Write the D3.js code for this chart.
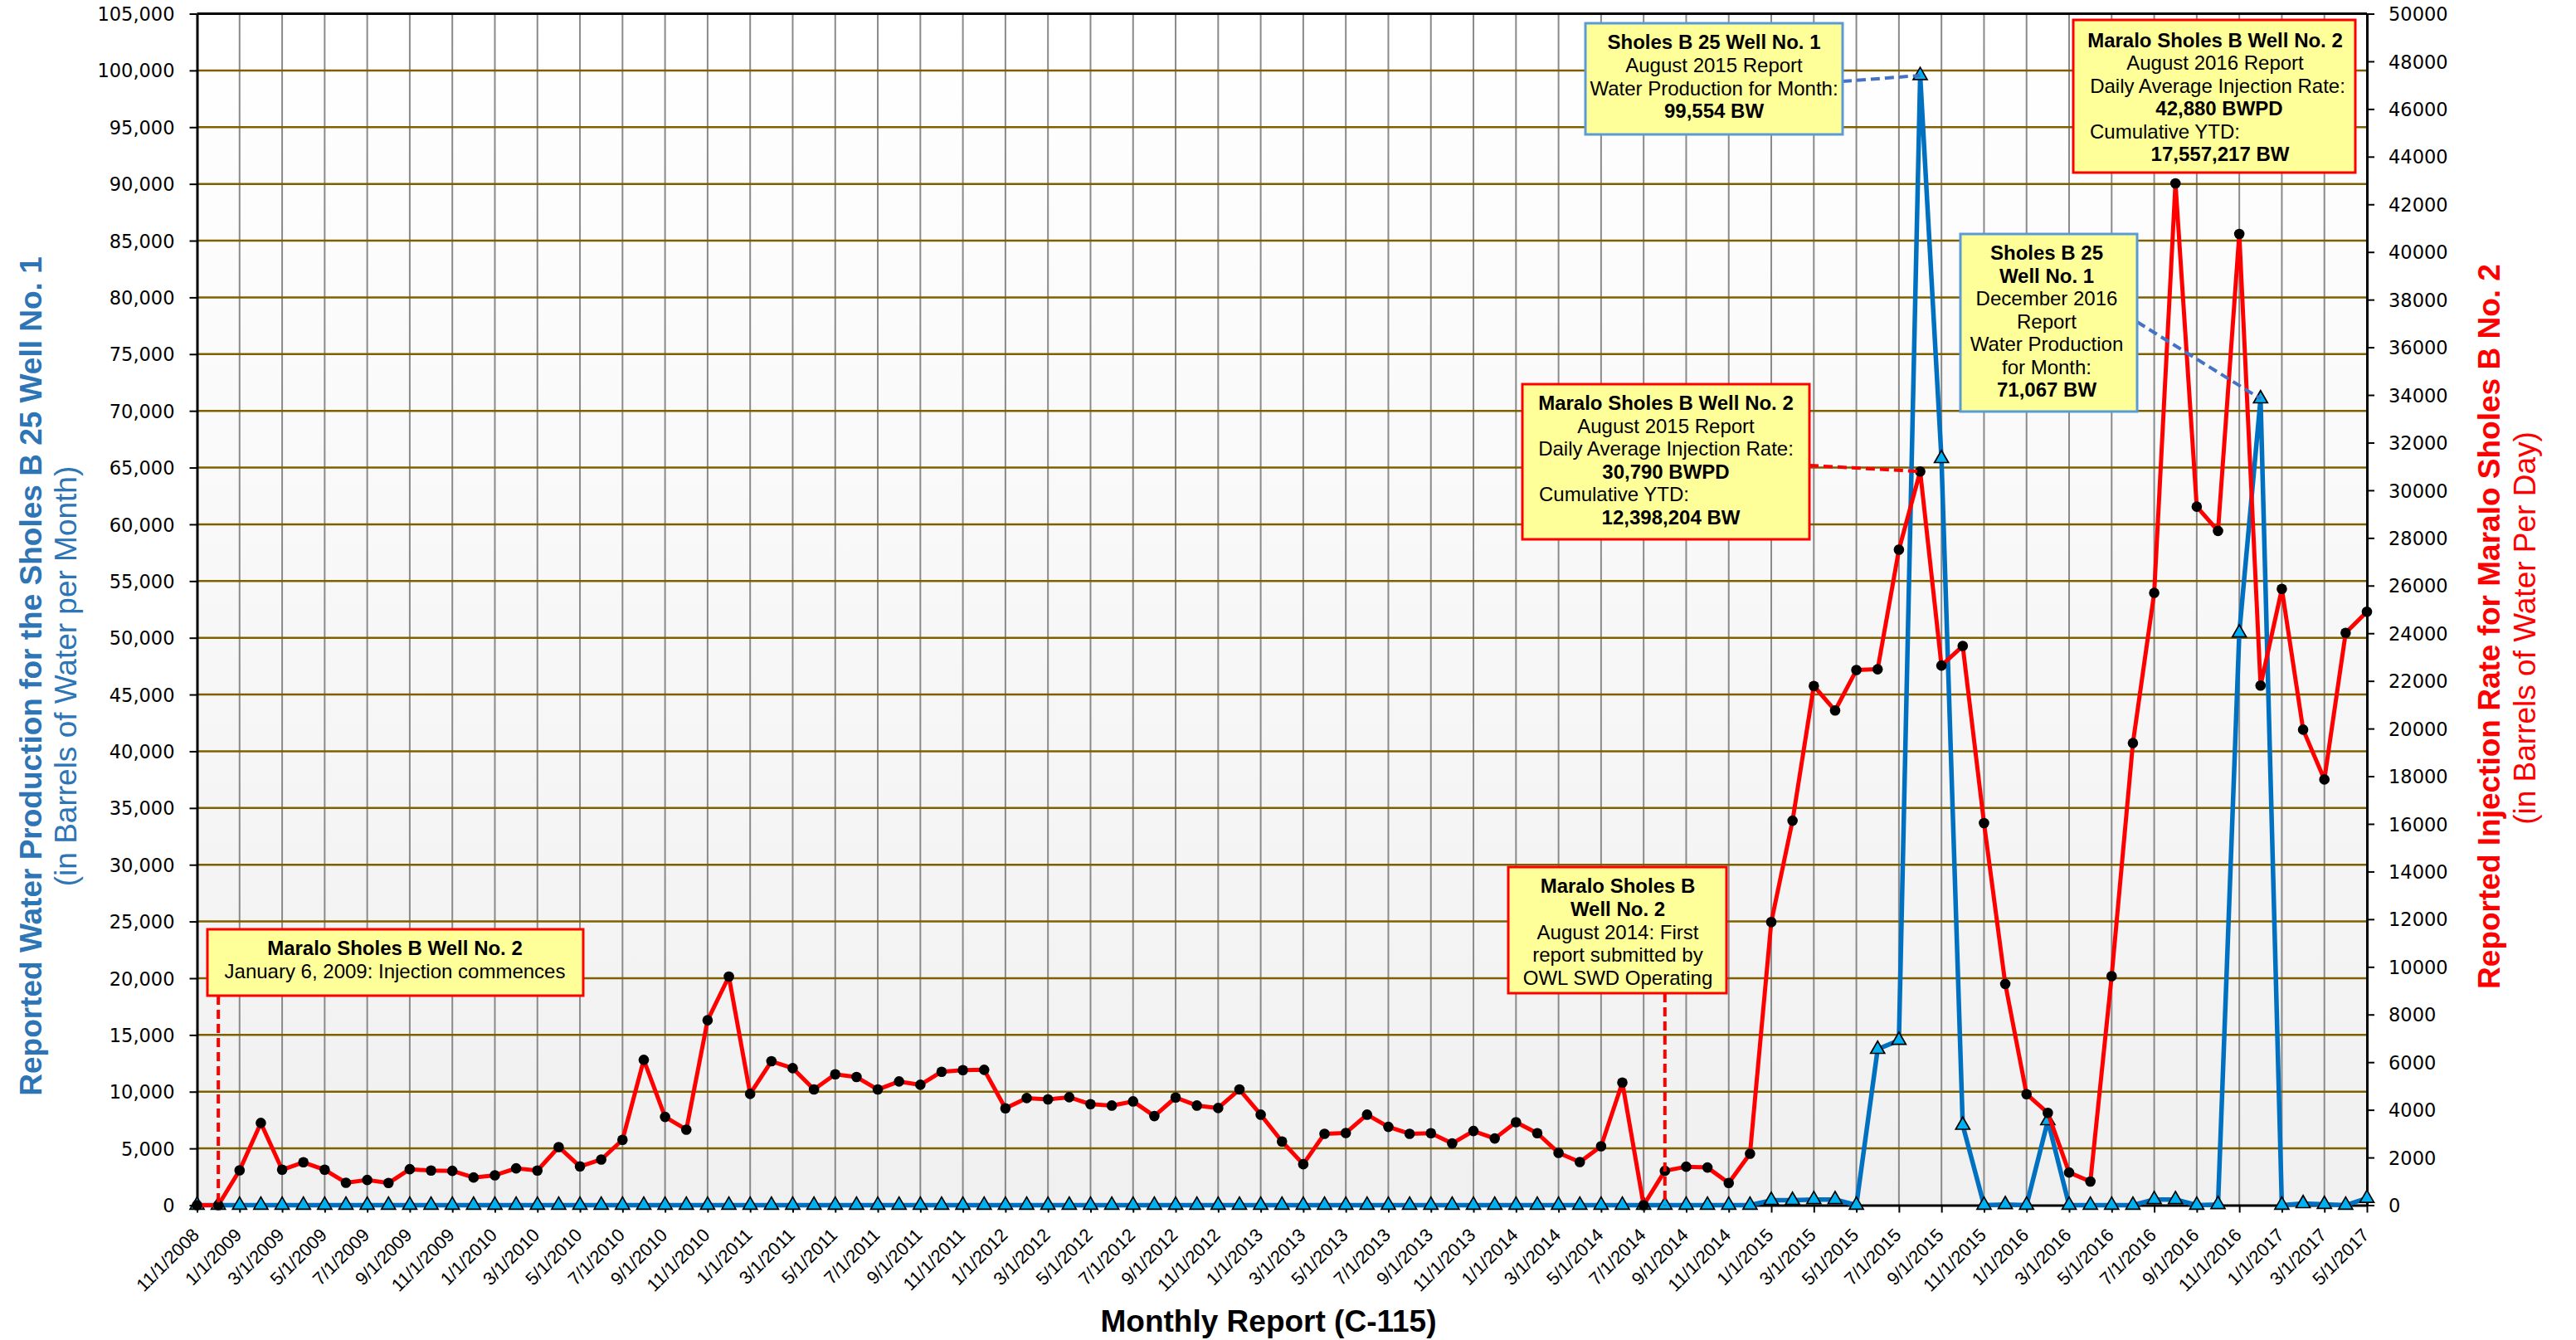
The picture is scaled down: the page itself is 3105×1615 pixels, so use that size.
<!DOCTYPE html>
<html><head><meta charset="utf-8">
<script src="https://cdn.jsdelivr.net/npm/d3@7"></script>
<style>
html,body{margin:0;padding:0;background:#fff;}
svg{display:block;}
</style></head><body>
<svg id="chart" width="3105" height="1615"></svg>
<script>
// ---------- DATA ----------
// Monthly reports: 11/1/2008 ... 5/1/2017
const months = d3.timeMonth.range(new Date(2008, 10, 1), new Date(2017, 5, 1));
const categories = months.map(d => `${d.getMonth() + 1}/1/${d.getFullYear()}`);
const xTickLabels = categories.filter((d, i) => i % 2 === 0);

// Sholes B 25 Well No. 1 – water production (BW per month, left axis)
const waterProduction = [
  0,0,0,0,0,0,0,0,0,0,
  0,0,0,0,0,0,0,0,0,0,
  0,0,0,0,0,0,0,0,0,0,
  0,0,0,0,0,0,0,0,0,0,
  0,0,0,0,0,0,0,0,0,0,
  0,0,0,0,0,0,0,0,0,0,
  0,0,0,0,0,0,0,0,0,0,
  0,0,0,0,430,430,500,500,0,13740,
  14530,99554,65800,7050,0,50,0,7450,0,0,
  0,0,500,500,0,60,50430,71067,0,140,
  70,0,610
];

// Maralo Sholes B Well No. 2 – injection rate (BWPD, right axis)
const injectionRate = [
  0,0,1463,3450,1487,1800,1487,941,1057,929,
  1510,1452,1440,1161,1254,1545,1452,2439,1626,1916,
  2741,6098,3705,3171,7759,9593,4669,6040,5749,4855,
  5494,5378,4855,5191,5052,5598,5668,5680,4065,4495,
  4437,4530,4239,4181,4355,3740,4518,4181,4077,4855,
  3798,2671,1719,2997,3031,3798,3287,2997,3020,2590,
  3113,2799,3484,3020,2195,1812,2474,5145,0,1440,
  1614,1580,929,2160,11881,16135,21788,20760,22456,22490,
  27506,30790,22644,23466,16032,9284,4659,3871,1370,993,
  9609,19390,25693,42880,29312,28294,40756,21805,25864,19955,
  17865,24014,24905
];

const leftTicks = [0,5000,10000,15000,20000,25000,30000,35000,40000,45000,50000,
  55000,60000,65000,70000,75000,80000,85000,90000,95000,100000,105000];
const rightTicks = [0,2000,4000,6000,8000,10000,12000,14000,16000,18000,20000,22000,24000,
  26000,28000,30000,32000,34000,36000,38000,40000,42000,44000,46000,48000,50000];

const leftTitle = ["Reported Water Production for the Sholes B 25 Well No. 1", "(in Barrels of Water per Month)"];
const rightTitle = ["Reported Injection Rate for Maralo Sholes B No. 2", "(in Barrels of Water Per Day)"];
const xTitle = "Monthly Report (C-115)";

// ---------- LAYOUT ----------
const plot = {left: 237.5, right: 2853, top: 16.5, bottom: 1452.5};
const svg = d3.select('#chart');
const ARIAL = "'Liberation Sans', Arial, sans-serif";

const x = d3.scalePoint().domain(categories).range([plot.left, plot.right]);
const yL = d3.scaleLinear().domain([0, 105000]).range([plot.bottom, plot.top]);
const yR = d3.scaleLinear().domain([0, 50000]).range([plot.bottom, plot.top]);

// background gradient
const defs = svg.append('defs');
const grad = defs.append('linearGradient').attr('id', 'bg').attr('x1', 0).attr('y1', 0).attr('x2', 0).attr('y2', 1);
grad.append('stop').attr('offset', '0%').attr('stop-color', '#ffffff');
grad.append('stop').attr('offset', '100%').attr('stop-color', '#f0f0f0');
svg.append('rect').attr('x', plot.left).attr('y', plot.top)
  .attr('width', plot.right - plot.left).attr('height', plot.bottom - plot.top)
  .attr('fill', 'url(#bg)');

// vertical gridlines
svg.append('g').selectAll('line').data(xTickLabels.slice(1, -1)).join('line')
  .attr('x1', d => x(d)).attr('x2', d => x(d))
  .attr('y1', plot.top).attr('y2', plot.bottom)
  .attr('stroke', '#8a8a8a').attr('stroke-width', 2);

// horizontal gridlines
svg.append('g').selectAll('line').data(leftTicks.filter(v => v > 0 && v < 105000)).join('line')
  .attr('x1', plot.left).attr('x2', plot.right)
  .attr('y1', d => yL(d)).attr('y2', d => yL(d))
  .attr('stroke', '#7f6000').attr('stroke-width', 2.5);

// top border
svg.append('line').attr('x1', plot.left).attr('x2', plot.right)
  .attr('y1', plot.top).attr('y2', plot.top).attr('stroke', '#000').attr('stroke-width', 3);

// left axis
const axL = svg.append('g').attr('transform', `translate(${plot.left},0)`)
  .call(d3.axisLeft(yL).tickValues(leftTicks).tickFormat(d3.format(',')).tickSize(9).tickSizeOuter(0).tickPadding(18));
// right axis
const axR = svg.append('g').attr('transform', `translate(${plot.right},0)`)
  .call(d3.axisRight(yR).tickValues(rightTicks).tickFormat(d3.format('d')).tickSize(9).tickSizeOuter(0).tickPadding(17));
[axL, axR].forEach(a => {
  a.select('.domain').attr('stroke', '#000').attr('stroke-width', 3);
  a.selectAll('.tick line').attr('stroke', '#000').attr('stroke-width', 2);
  a.selectAll('.tick text').attr('font-family', "'DejaVu Sans', Verdana, sans-serif")
    .attr('font-size', 22.5).attr('fill', '#000').attr('dy', '0.36em');
});

// bottom axis
const axB = svg.append('g').attr('transform', `translate(0,${plot.bottom})`)
  .call(d3.axisBottom(x).tickValues(xTickLabels).tickSize(9).tickSizeOuter(0));
axB.select('.domain').attr('stroke', '#000').attr('stroke-width', 3);
axB.selectAll('.tick line').attr('stroke', '#000').attr('stroke-width', 2);
axB.selectAll('.tick text')
  .attr('font-family', ARIAL).attr('font-size', 22).attr('fill', '#000')
  .attr('x', 0).attr('y', 0).attr('dy', '0.35em')
  .attr('text-anchor', 'end')
  .attr('transform', 'translate(-2,32) rotate(-45)');

// ---------- SERIES ----------
const lineL = d3.line().x((d, i) => x(categories[i])).y(d => yL(d));
const lineR = d3.line().x((d, i) => x(categories[i])).y(d => yR(d));

svg.append('path').datum(waterProduction).attr('d', lineL)
  .attr('fill', 'none').attr('stroke', '#0070c0').attr('stroke-width', 5.5).attr('stroke-linejoin', 'round');
svg.append('g').selectAll('path').data(waterProduction).join('path')
  .attr('d', d3.symbol(d3.symbolTriangle, 125))
  .attr('transform', (d, i) => `translate(${x(categories[i])},${yL(d)})`)
  .attr('fill', '#00b0f0').attr('stroke', '#000').attr('stroke-width', 1.7);

svg.append('path').datum(injectionRate).attr('d', lineR)
  .attr('fill', 'none').attr('stroke', '#ff0000').attr('stroke-width', 5).attr('stroke-linejoin', 'round');
svg.append('g').selectAll('circle').data(injectionRate).join('circle')
  .attr('cx', (d, i) => x(categories[i])).attr('cy', d => yR(d)).attr('r', 6.3)
  .attr('fill', '#000');

// ---------- LEADERS ----------
const leaders = [
  {x1: 2221, y1: 98, x2: x(categories[81]), y2: yL(waterProduction[81]), c: '#4472c4'},
  {x1: 2181, y1: 561, x2: x(categories[81]), y2: yR(injectionRate[81]), c: '#ff0000'},
  {x1: 2576, y1: 388, x2: x(categories[97]), y2: yL(waterProduction[97]), c: '#4472c4'},
  {x1: x(categories[1]), y1: 1200, x2: x(categories[1]), y2: plot.bottom, c: '#ff0000'},
  {x1: x(categories[69]), y1: 1197, x2: x(categories[69]), y2: plot.bottom, c: '#ff0000'}
];
svg.append('g').selectAll('line').data(leaders).join('line')
  .attr('x1', d => d.x1).attr('y1', d => d.y1).attr('x2', d => d.x2).attr('y2', d => d.y2)
  .attr('stroke', d => d.c).attr('stroke-width', 4).attr('stroke-dasharray', '11,6');

// ---------- ANNOTATION BOXES ----------
const boxes = [
  {x: 250, y: 1120, w: 453, h: 80, c: '#ff0000', cx: 476, lines: [
    {t: 'Maralo Sholes B Well No. 2', b: 1, y: 1151},
    {t: 'January 6, 2009: Injection commences', y: 1179}]},
  {x: 1818, y: 1045, w: 263, h: 152, c: '#ff0000', cx: 1950, lines: [
    {t: 'Maralo Sholes B', b: 1, y: 1076},
    {t: 'Well No. 2', b: 1, y: 1104},
    {t: 'August 2014: First', y: 1132},
    {t: 'report submitted by', y: 1159},
    {t: 'OWL SWD Operating', y: 1187}]},
  {x: 1835, y: 463, w: 346, h: 187, c: '#ff0000', cx: 2008, lines: [
    {t: 'Maralo Sholes B Well No. 2', b: 1, y: 494},
    {t: 'August 2015 Report', y: 522},
    {t: 'Daily Average Injection Rate:', y: 549},
    {t: '30,790 BWPD', b: 1, y: 577},
    {t: 'Cumulative YTD:', y: 604, sx: 1855},
    {t: '12,398,204 BW', b: 1, y: 632, x: 2014}]},
  {x: 1911, y: 28, w: 310, h: 134, c: '#5b9bd5', cx: 2066, lines: [
    {t: 'Sholes B 25 Well No. 1', b: 1, y: 59},
    {t: 'August 2015 Report', y: 87},
    {t: 'Water Production for Month:', y: 115},
    {t: '99,554 BW', b: 1, y: 142}]},
  {x: 2499, y: 24, w: 340, h: 184, c: '#ff0000', cx: 2670, lines: [
    {t: 'Maralo Sholes B Well No. 2', b: 1, y: 57},
    {t: 'August 2016 Report', y: 84},
    {t: 'Daily Average Injection Rate:', y: 112, x: 2673},
    {t: '42,880 BWPD', b: 1, y: 139, x: 2675},
    {t: 'Cumulative YTD:', y: 167, sx: 2519},
    {t: '17,557,217 BW', b: 1, y: 194, x: 2676}]},
  {x: 2363, y: 282, w: 213, h: 214, c: '#5b9bd5', cx: 2467, lines: [
    {t: 'Sholes B 25', b: 1, y: 313},
    {t: 'Well No. 1', b: 1, y: 341},
    {t: 'December 2016', y: 368},
    {t: 'Report', y: 396},
    {t: 'Water Production', y: 423},
    {t: 'for Month:', y: 451},
    {t: '71,067 BW', b: 1, y: 478}]}
];
const bg = svg.append('g').selectAll('g').data(boxes).join('g');
bg.append('rect').attr('x', d => d.x).attr('y', d => d.y).attr('width', d => d.w).attr('height', d => d.h)
  .attr('fill', '#ffff99').attr('stroke', d => d.c).attr('stroke-width', 3);
bg.each(function (box) {
  d3.select(this).selectAll('text').data(box.lines).join('text')
    .attr('x', l => l.sx != null ? l.sx : (l.x != null ? l.x : box.cx))
    .attr('y', l => l.y)
    .attr('text-anchor', l => l.sx != null ? 'start' : 'middle')
    .attr('font-family', ARIAL).attr('font-size', 24)
    .attr('font-weight', l => l.b ? 'bold' : 'normal')
    .attr('fill', '#000')
    .text(l => l.t);
});

// ---------- TITLES ----------
const lt = svg.append('g').attr('font-family', ARIAL).attr('font-size', 37).attr('fill', '#2e75b6').attr('text-anchor', 'middle');
lt.append('text').attr('transform', 'translate(50,815) rotate(-90)').attr('font-weight', 'bold').text(leftTitle[0]);
lt.append('text').attr('transform', 'translate(92,815) rotate(-90)').text(leftTitle[1]);

const rt = svg.append('g').attr('font-family', ARIAL).attr('font-size', 37).attr('fill', '#ff0000').attr('text-anchor', 'middle');
rt.append('text').attr('transform', 'translate(3013,755) rotate(-90)').attr('font-weight', 'bold').text(rightTitle[0]);
rt.append('text').attr('transform', 'translate(3056,757) rotate(-90)').text(rightTitle[1]);

svg.append('text').attr('x', 1529).attr('y', 1605).attr('text-anchor', 'middle')
  .attr('font-family', ARIAL).attr('font-size', 37).attr('font-weight', 'bold').attr('fill', '#000')
  .text(xTitle);
</script>
</body></html>
